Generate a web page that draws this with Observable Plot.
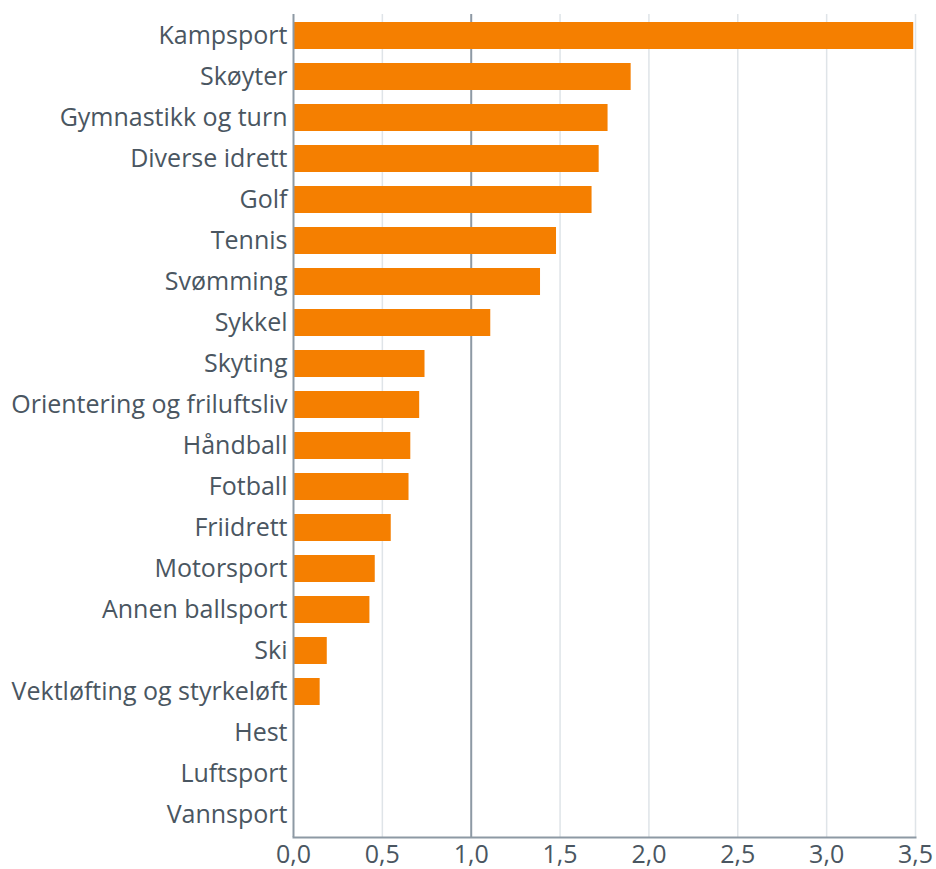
<!DOCTYPE html>
<html>
<head>
<meta charset="utf-8">
<script src="https://cdn.jsdelivr.net/npm/d3@7"></script>
<script src="https://cdn.jsdelivr.net/npm/@observablehq/plot@0.6"></script>
<style>
  html, body { margin: 0; padding: 0; background: #fff; }
  #chart { width: 936px; height: 869px; }
</style>
</head>
<body>
<div id="chart"></div>
<script>
const categories = ["Kampsport","Skøyter","Gymnastikk og turn","Diverse idrett","Golf","Tennis","Svømming","Sykkel","Skyting","Orientering og friluftsliv","Håndball","Fotball","Friidrett","Motorsport","Annen ballsport","Ski","Vektløfting og styrkeløft","Hest","Luftsport","Vannsport"];
const values = [3.49,1.90,1.77,1.72,1.68,1.48,1.39,1.11,0.74,0.71,0.66,0.65,0.55,0.46,0.43,0.19,0.15,0,0,0];
const xTicks = [0,0.5,1,1.5,2,2.5,3,3.5];

const data = categories.map((c, i) => ({category: c, value: values[i]}));
const fmt = d => d.toFixed(1).replace(".", ",");

const chart = Plot.plot({
  width: 936,
  height: 869,
  marginLeft: 293,
  marginRight: 21,
  marginTop: 14,
  marginBottom: 32,
  style: {fontFamily: "'Open Sans', sans-serif", fontSize: "25px", color: "#4a5661", background: "#fff", overflow: "visible"},
  x: {domain: [0, 3.5], label: null},
  y: {domain: categories, paddingInner: 0.34, paddingOuter: 0.17, label: null},
  marks: [
    Plot.ruleX(xTicks.filter(d => d !== 0 && d !== 1), {stroke: "#dfe4e8", strokeWidth: 1.5}),
    Plot.ruleX([1], {stroke: "#8d99a4", strokeWidth: 2}),
    Plot.barX(data, {x: "value", y: "category", fill: "#f57f00"}),
    Plot.ruleX([0], {stroke: "#8d99a4", strokeWidth: 2}),
    Plot.frame({anchor: "bottom", stroke: "#8d99a4", strokeWidth: 2}),
    Plot.axisX({ticks: xTicks, tickFormat: fmt, tickSize: 0, tickPadding: 8, fontSize: 25, fill: "#4a5661", label: null}),
    Plot.axisY({tickSize: 0, tickPadding: 6, fontSize: 25, fill: "#4a5661", label: null})
  ]
});
document.getElementById("chart").appendChild(chart);
</script>
</body>
</html>
